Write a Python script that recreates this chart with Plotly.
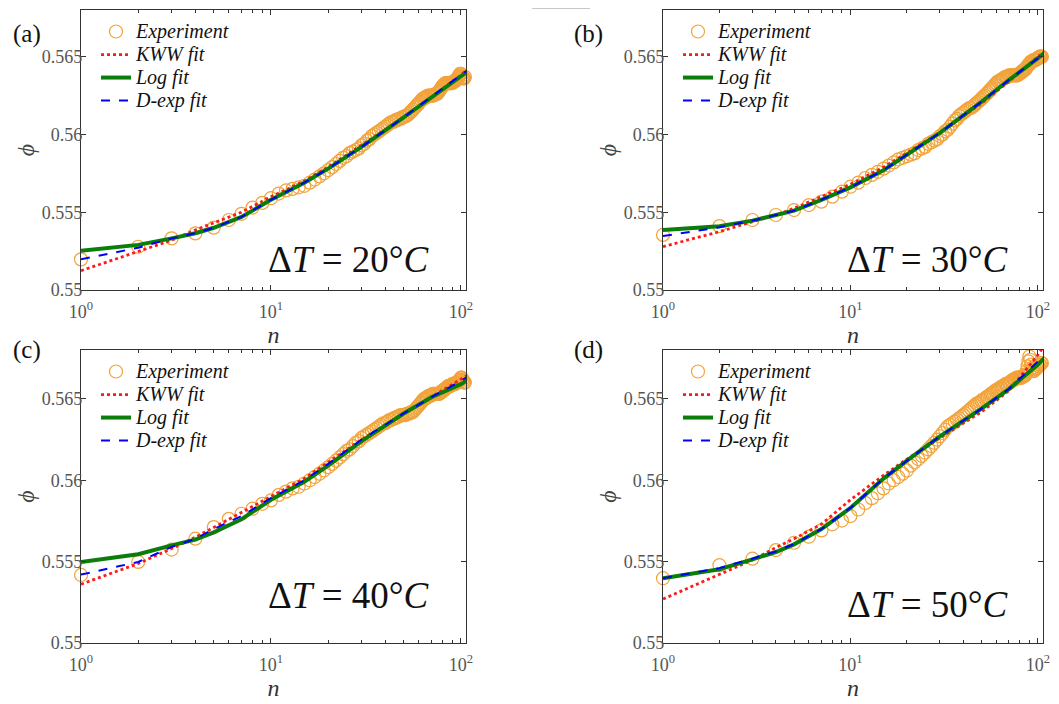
import plotly.graph_objects as go

# ---------------- data ----------------
N = list(range(1, 106))
FIT_N = [1, 2, 3, 4, 5, 7, 10, 15, 20, 30, 50, 70, 100, 110]

EXP_A = [0.55197, 0.55278, 0.55332, 0.55364, 0.55401, 0.5545, 0.5549, 0.5553, 0.5556, 0.5559,
         0.5562, 0.5564, 0.5565, 0.5566, 0.5567, 0.5569, 0.5571, 0.5573, 0.5575, 0.5577,
         0.5579, 0.5581, 0.5583, 0.5585, 0.5586, 0.5588, 0.5589, 0.5590, 0.5591, 0.5593,
         0.5594, 0.5596, 0.5597, 0.5599, 0.5600, 0.5601, 0.5602, 0.5603, 0.5604, 0.5605,
         0.5606, 0.5607, 0.5608, 0.5608, 0.5609, 0.5609, 0.5610, 0.5610, 0.5611, 0.5611,
         0.5612, 0.5612, 0.5613, 0.5614, 0.5615, 0.5616, 0.5617, 0.5618, 0.5619, 0.5620,
         0.5621, 0.5622, 0.5623, 0.5623, 0.5624, 0.5624, 0.5625, 0.5625, 0.5625, 0.5625,
         0.5625, 0.5625, 0.5626, 0.5626, 0.5626, 0.5627, 0.5628, 0.5629, 0.5630, 0.5631,
         0.5632, 0.5632, 0.5633, 0.5633, 0.5633, 0.5633, 0.5633, 0.5633, 0.5633, 0.5633,
         0.5634, 0.5634, 0.5634, 0.5635, 0.5635, 0.5636, 0.5637, 0.5638, 0.5639, 0.5639,
         0.5638, 0.5637, 0.5636, 0.5636, 0.5637]
KWW_A = [0.55124, 0.55246, 0.5532, 0.55386, 0.5543, 0.5550, 0.5560, 0.5570, 0.5579, 0.5593, 0.5611, 0.5624, 0.5638, 0.5642]
LOG_A = [0.55253, 0.5529, 0.55332, 0.55365, 0.5540, 0.5547, 0.5558, 0.5569, 0.5578, 0.5592, 0.5611, 0.5624, 0.5637, 0.5641]
DEXP_A = [0.55197, 0.55272, 0.55332, 0.55365, 0.5540, 0.5547, 0.5558, 0.5569, 0.5578, 0.5592, 0.5611, 0.5624, 0.5638, 0.5642]

EXP_B = [0.55354, 0.55411, 0.5545, 0.55482, 0.55514, 0.55546, 0.55568, 0.5560, 0.55632, 0.55664,
         0.5569, 0.5572, 0.5574, 0.5576, 0.5578, 0.5580, 0.5582, 0.5584, 0.5585, 0.5586,
         0.5587, 0.5588, 0.5590, 0.5591, 0.5592, 0.5594, 0.5595, 0.5596, 0.5597, 0.5599,
         0.5600, 0.5602, 0.5603, 0.5605, 0.5607, 0.5609, 0.5610, 0.5612, 0.5613, 0.5614,
         0.5615, 0.5616, 0.5617, 0.5617, 0.5618, 0.5619, 0.5620, 0.5621, 0.5622, 0.5623,
         0.5624, 0.5625, 0.5626, 0.5627, 0.5628, 0.5629, 0.5630, 0.5631, 0.5632, 0.5633,
         0.5634, 0.5634, 0.5635, 0.5635, 0.5636, 0.5636, 0.5637, 0.5637, 0.5637, 0.5638,
         0.5638, 0.5638, 0.5638, 0.5638, 0.5638, 0.5638, 0.5638, 0.5638, 0.5639, 0.5639,
         0.5640, 0.5640, 0.5641, 0.5641, 0.5642, 0.5642, 0.5643, 0.5644, 0.5645, 0.5645,
         0.5646, 0.5647, 0.5647, 0.5647, 0.5648, 0.5648, 0.5648, 0.5648, 0.5649, 0.5649,
         0.5649, 0.5650, 0.5650, 0.5650, 0.5650]
KWW_B = [0.55279, 0.55375, 0.55439, 0.55482, 0.55525, 0.5560, 0.5568, 0.5579, 0.5588, 0.5601, 0.5620, 0.5634, 0.5650, 0.5654]
LOG_B = [0.55386, 0.5541, 0.55446, 0.5548, 0.5551, 0.5558, 0.5566, 0.5577, 0.5587, 0.5601, 0.5621, 0.5635, 0.5649, 0.5653]
DEXP_B = [0.55347, 0.55403, 0.55446, 0.5548, 0.5551, 0.5558, 0.5566, 0.5577, 0.5587, 0.5601, 0.5621, 0.5635, 0.5649, 0.5653]

EXP_C = [0.55418, 0.55498, 0.55574, 0.55641, 0.55712, 0.55763, 0.55794, 0.55825, 0.55855, 0.55876,
         0.5591, 0.5593, 0.5595, 0.5596, 0.5598, 0.5600, 0.5602, 0.5604, 0.5606, 0.5608,
         0.5610, 0.5612, 0.5614, 0.5616, 0.5618, 0.5619, 0.5621, 0.5623, 0.5624, 0.5626,
         0.5627, 0.5628, 0.5629, 0.5630, 0.5631, 0.5632, 0.5633, 0.5634, 0.5635, 0.5635,
         0.5636, 0.5637, 0.5637, 0.5638, 0.5638, 0.5639, 0.5639, 0.5640, 0.5640, 0.5640,
         0.5640, 0.5641, 0.5641, 0.5641, 0.5642, 0.5642, 0.5643, 0.5644, 0.5645, 0.5646,
         0.5647, 0.5648, 0.5649, 0.5650, 0.5650, 0.5651, 0.5651, 0.5652, 0.5652, 0.5652,
         0.5653, 0.5653, 0.5653, 0.5653, 0.5653, 0.5653, 0.5653, 0.5654, 0.5654, 0.5655,
         0.5655, 0.5656, 0.5656, 0.5657, 0.5657, 0.5658, 0.5658, 0.5658, 0.5658, 0.5659,
         0.5659, 0.5659, 0.5659, 0.5660, 0.5660, 0.5660, 0.5661, 0.5661, 0.5662, 0.5663,
         0.5663, 0.5662, 0.5661, 0.5660, 0.5660]
KWW_C = [0.55361, 0.55488, 0.5558, 0.5565, 0.5571, 0.5580, 0.5590, 0.5601, 0.5611, 0.5625, 0.5641, 0.5651, 0.5662, 0.5665]
LOG_C = [0.55498, 0.55545, 0.5560, 0.55635, 0.5568, 0.5576, 0.5588, 0.5599, 0.5609, 0.5624, 0.5641, 0.5651, 0.5659, 0.5662]
DEXP_C = [0.5542, 0.55498, 0.5559, 0.5564, 0.5570, 0.5578, 0.5589, 0.5600, 0.5610, 0.5625, 0.5641, 0.5651, 0.5661, 0.5664]

EXP_D = [0.55398, 0.55478, 0.55518, 0.55571, 0.55616, 0.55653, 0.55692, 0.55729, 0.55752, 0.5578,
         0.5582, 0.5586, 0.5589, 0.5592, 0.5595, 0.5598, 0.5600, 0.5602, 0.5604, 0.5606,
         0.5609, 0.5611, 0.5613, 0.5615, 0.5617, 0.5619, 0.5621, 0.5623, 0.5625, 0.5627,
         0.5629, 0.5631, 0.5633, 0.5634, 0.5635, 0.5636, 0.5637, 0.5638, 0.5639, 0.5640,
         0.5641, 0.5642, 0.5643, 0.5644, 0.5645, 0.5646, 0.5647, 0.5647, 0.5648, 0.5649,
         0.5649, 0.5650, 0.5651, 0.5651, 0.5652, 0.5653, 0.5653, 0.5654, 0.5655, 0.5655,
         0.5656, 0.5656, 0.5657, 0.5657, 0.5658, 0.5658, 0.5659, 0.5659, 0.5659, 0.5660,
         0.5660, 0.5661, 0.5661, 0.5662, 0.5662, 0.5662, 0.5663, 0.5663, 0.5663, 0.5663,
         0.5663, 0.5663, 0.5664, 0.5664, 0.5664, 0.5665, 0.5667, 0.5670, 0.5673, 0.5676,
         0.5674, 0.5671, 0.5669, 0.5668, 0.5667, 0.5668, 0.5668, 0.5669, 0.5669, 0.5670,
         0.5670, 0.5671, 0.5671, 0.5672, 0.5672]
KWW_D = [0.5527, 0.5542, 0.5551, 0.55586, 0.5564, 0.5573, 0.5588, 0.5603, 0.5613, 0.5626, 0.5642, 0.5655, 0.5677, 0.5684]
LOG_D = [0.55398, 0.55453, 0.55514, 0.55559, 0.55606, 0.5570, 0.5583, 0.5601, 0.5612, 0.5627, 0.5644, 0.5656, 0.5671, 0.5676]
DEXP_D = [0.55398, 0.5546, 0.55518, 0.55562, 0.55608, 0.5570, 0.5583, 0.5601, 0.5612, 0.5627, 0.5644, 0.5656, 0.5673, 0.5679]

PANEL_LABELS = ["(a)", "(b)", "(c)", "(d)"]
DELTA_T = [20, 30, 40, 50]
SERIES_NAMES = ["Experiment", "KWW fit", "Log fit", "D-exp fit"]
X_TICKVALS = [1, 10, 100]
X_TICKTEXT = ["10<sup>0</sup>", "10<sup>1</sup>", "10<sup>2</sup>"]
Y_TICKVALS = [0.55, 0.555, 0.56, 0.565]
Y_TICKTEXT = ["0.55", "0.555", "0.56", "0.565"]
X_MINOR = [2, 3, 4, 5, 6, 7, 8, 9, 20, 30, 40, 50, 60, 70, 80, 90]

# ---------------- style ----------------
# the page body has an 8 px margin, so the figure is drawn 8 px in from the
# top-left corner of the window; positions below are given in window pixels.
OFF = 8
FW, FH = 1051, 696
SERIF = "Liberation Serif, Times New Roman, serif"
ORANGE = "#F2A33A"
AXC = "#333333"


def px(x):
    return (x - OFF) / FW


def py(y):
    return 1 - (y - OFF) / FH


panels = [
    (EXP_A, KWW_A, LOG_A, DEXP_A),
    (EXP_B, KWW_B, LOG_B, DEXP_B),
    (EXP_C, KWW_C, LOG_C, DEXP_C),
    (EXP_D, KWW_D, LOG_D, DEXP_D),
]

# plot-area boxes in window pixels (left, right, top, bottom)
boxes = [(81, 466, 10, 290), (663, 1043, 10, 290), (81, 466, 350, 643), (663, 1043, 350, 643)]
dt_pos = [(349, 259), (928, 259), (349, 595), (928, 604)]
lab_pos = [(27, 34), (588, 34), (27, 350), (588, 350)]


def leg_name(s):
    return '<span style="font-size:20px"><i>%s</i></span>' % s


fig = go.Figure()
layout = dict(
    width=FW, height=FH, autosize=False,
    margin=dict(l=0, r=0, t=0, b=0, autoexpand=False),
    paper_bgcolor="white", plot_bgcolor="white",
    font=dict(family=SERIF, color="#222222"),
    annotations=[], shapes=[],
)

for i, (exp, kww, lg, dexp) in enumerate(panels):
    sfx = "" if i == 0 else str(i + 1)
    xa, ya, leg = "x" + sfx, "y" + sfx, "legend" + sfx
    fig.add_trace(go.Scatter(
        x=N, y=exp, mode="markers", name=leg_name(SERIES_NAMES[0]),
        marker=dict(symbol="circle-open", size=13, color=ORANGE, line=dict(width=1.2)),
        xaxis=xa, yaxis=ya, legend=leg, cliponaxis=False))
    fig.add_trace(go.Scatter(
        x=FIT_N, y=kww, mode="lines", name=leg_name(SERIES_NAMES[1]),
        line=dict(color="#FF1A1A", width=2.8, dash="dot"),
        xaxis=xa, yaxis=ya, legend=leg))
    fig.add_trace(go.Scatter(
        x=FIT_N, y=lg, mode="lines", name=leg_name(SERIES_NAMES[2]),
        line=dict(color="#0A7D0A", width=4),
        xaxis=xa, yaxis=ya, legend=leg))
    fig.add_trace(go.Scatter(
        x=FIT_N, y=dexp, mode="lines", name=leg_name(SERIES_NAMES[3]),
        line=dict(color="#0000FF", width=2, dash="dash"),
        xaxis=xa, yaxis=ya, legend=leg))

    l, r, t, b = boxes[i]
    layout["xaxis" + sfx] = dict(
        type="log", range=[0, 2.027], domain=[px(l), px(r)], anchor=ya, automargin=False,
        tickmode="array", tickvals=X_TICKVALS, ticktext=X_TICKTEXT,
        ticks="inside", ticklen=5, tickcolor=AXC, tickwidth=1, ticklabelstandoff=5,
        minor=dict(ticks="inside", ticklen=3, tickcolor=AXC, tickmode="array", tickvals=X_MINOR, showgrid=False),
        showline=True, linecolor=AXC, linewidth=1.2, mirror="allticks",
        showgrid=False, zeroline=False,
        tickfont=dict(family=SERIF, size=18, color="#555555"),
        title=dict(text="<i>n</i>", font=dict(family=SERIF, size=24, color="#333333"), standoff=0),
    )
    layout["yaxis" + sfx] = dict(
        range=[0.55, 0.568], domain=[py(b), py(t)], anchor=xa, automargin=False,
        tickmode="array", tickvals=Y_TICKVALS, ticktext=Y_TICKTEXT,
        ticks="inside", ticklen=5, tickcolor=AXC, tickwidth=1, ticklabelstandoff=-6,
        showline=True, linecolor=AXC, linewidth=1.2, mirror="allticks",
        showgrid=False, zeroline=False,
        tickfont=dict(family=SERIF, size=18, color="#555555"),
        title=dict(text="<i>ϕ</i>", font=dict(family=SERIF, size=24, color="#444444"), standoff=0),
    )
    layout[leg] = dict(
        x=px(l + 15), y=py(t + 5), xanchor="left", yanchor="top",
        bgcolor="rgba(0,0,0,0)", borderwidth=0,
        font=dict(family=SERIF, size=15.4, color="#111111"),
        itemwidth=30, tracegroupgap=0, traceorder="normal",
    )
    layout["annotations"].append(dict(
        text=PANEL_LABELS[i], xref="paper", yref="paper",
        x=px(lab_pos[i][0]), y=py(lab_pos[i][1]), xanchor="center", yanchor="middle",
        showarrow=False, font=dict(family=SERIF, size=25, color="#111111")))
    layout["annotations"].append(dict(
        text="Δ<i>T</i> = %d°<i>C</i>" % DELTA_T[i], xref="paper", yref="paper",
        x=px(dt_pos[i][0]), y=py(dt_pos[i][1]), xanchor="center", yanchor="middle",
        showarrow=False, font=dict(family=SERIF, size=37, color="#111111")))

# small stray rule at top of the original figure
layout["shapes"].append(dict(type="line", xref="paper", yref="paper",
                             x0=px(532), x1=px(590), y0=py(8.5), y1=py(8.5),
                             line=dict(color="#C8C8C8", width=1)))

fig.update_layout(**layout)
fig.write_html("out.html")
